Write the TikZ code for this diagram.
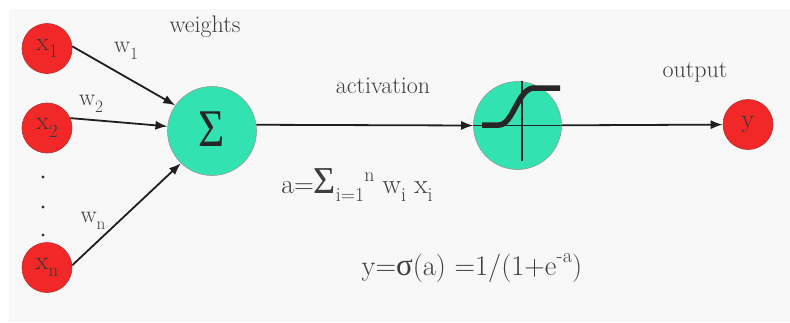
\documentclass[tikz,border=0pt]{standalone}
\usepackage{fontspec}
\newfontfamily\grk{Liberation Serif}
\usetikzlibrary{arrows.meta}
\definecolor{nred}{RGB}{242,40,40}
\definecolor{nredb}{RGB}{185,45,45}
\definecolor{tealn}{RGB}{50,226,176}
\definecolor{txt}{RGB}{62,62,62}
\definecolor{bgc}{RGB}{248,248,248}
\newcommand\dn[1]{\raisebox{-0.28em}{\scalebox{0.72}{#1}}}
\newcommand\up[1]{\raisebox{0.45em}{\scalebox{0.72}{#1}}}
\begin{document}
\begin{tikzpicture}[x=1pt,y=-1pt,
  inp/.style={circle,fill=nred,draw=nredb,line width=0.6pt,minimum size=50pt,inner sep=0pt,text=black!78,font=\fontsize{26}{26}\selectfont},
  unit/.style={circle,fill=tealn,draw=black!40,line width=0.6pt,minimum size=89pt,inner sep=0pt,text=black!85},
  conn/.style={draw=black!88,line width=1.8pt,-{Latex[length=12pt,width=9pt]}},
  axisln/.style={draw=black!85,line width=1.6pt},
  sigm/.style={draw=black!85,line width=5.5pt,line join=round},
  lbl/.style={text=txt,font=\fontsize{24}{24}\selectfont,inner sep=0pt},
  eqn/.style={text=txt,font=\fontsize{28.5}{28.5}\selectfont,inner sep=0pt}]
\fill[white] (0,0) rectangle (790,322);
\fill[bgc] (9,9) rectangle (790,322);
\useasboundingbox (0,0) rectangle (790,322);

% input nodes
\node[inp] (x1) at (47,48.5) {x\dn{1}};
\node[inp] (x2) at (47,128) {x\dn{2}};
\node[inp] (xn) at (47,267.5) {x\dn{n}};
\fill[black!80] (43,177) circle (1.6);
\fill[black!80] (43,207) circle (1.6);
\fill[black!80] (43,235) circle (1.6);

% summation and activation
\node[unit] (sum) at (212,131) {\raisebox{3pt}{\scalebox{0.85}[1]{\grk\fontsize{53}{53}\selectfont Σ}}};
\node[unit,minimum size=88pt] (sig) at (517.5,125.5) {};
\draw[axisln] (sig.west) -- (sig.east);
\draw[axisln] ([xshift=4.5pt]sig.north) -- ([xshift=4.5pt,yshift=8.5pt]sig.south);
\draw[sigm] (482,125) -- (499,125) .. controls (513,125) and (518,88) .. (534,88) -- (560,88);

% output
\node[inp] (y) at (748,124.5) {y};

% connectors
\draw[conn] (x1.5) -- (sum.145);
\draw[conn] (x2.23) -- (sum.174);
\draw[conn] (xn.5) -- (sum.226);
\draw[conn] (sum.8) -- (sig.west);
\draw[conn] (sig) -- (y);

% labels
\node[lbl] (lw) at (205,27) {weights};
\node[lbl] (lw1) at (126,51) {w\dn{1}};
\node[lbl] (lw2) at (91,104) {w\dn{2}};
\node[lbl] (lwn) at (93,221) {w\dn{n}};
\node[lbl] (la) at (383,86) {activation};
\node[lbl] (lo) at (695,72) {output};
\node[eqn,font=\fontsize{27.5}{27.5}\selectfont] (fa) at (357,185) {a={\grk\fontsize{38}{38}\selectfont Σ}\dn{i=1}\up{n} w\dn{i} x\dn{i}};
\node[eqn] (fy) at (472,268) {y={\grk\fontsize{31}{31}\selectfont σ}(a) =1/(1+e\up{-a})};
\end{tikzpicture}
\end{document}
